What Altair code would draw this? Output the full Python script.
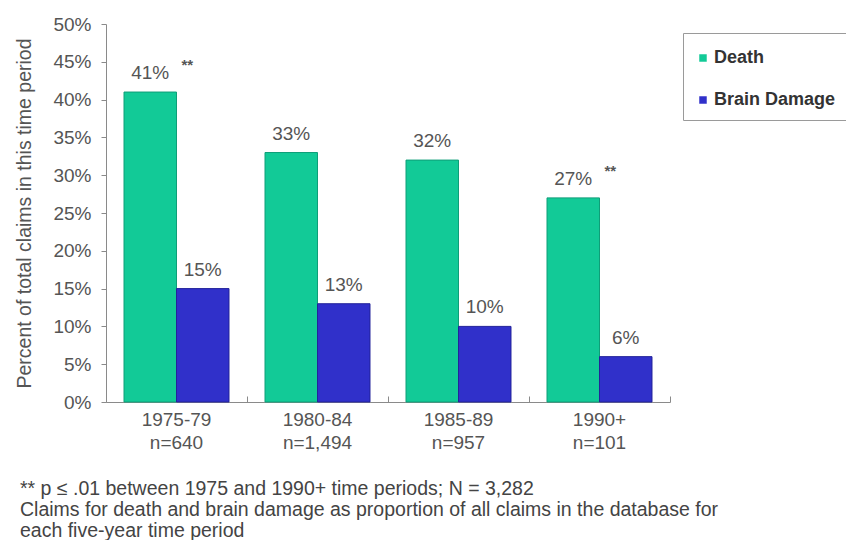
import altair as alt
import pandas as pd

periods = ["1975-79", "1980-84", "1985-89", "1990+"]
n_claims = ["n=640", "n=1,494", "n=957", "n=101"]
death = [41, 33, 32, 27]
brain = [15, 13, 10, 6]
series = ["Death", "Brain Damage"]
colors = ["#12CA97", "#3030CA"]
strokes = ["#0E9E78", "#22229A"]
star_periods = ["1975-79", "1990+"]
footnote = [
    "** p \u2264 .01 between 1975 and 1990+ time periods; N = 3,282",
    "Claims for death and brain damage as proportion of all claims in the database for",
    "each five-year time period",
]

rows = []
for p, n, d, b in zip(periods, n_claims, death, brain):
    lab = p + "|" + n
    rows.append({"period": lab, "series": "Death", "value": d, "txt": f"{d}%"})
    rows.append({"period": lab, "series": "Brain Damage", "value": b, "txt": f"{b}%"})
df = pd.DataFrame(rows)
star_labels = [p + "|" + n for p, n in zip(periods, n_claims) if p in star_periods]
stars = df[(df.series == "Death") & (df.period.isin(star_labels))].copy()
stars["txt"] = "**"

FONT = "Liberation Sans"
W, H = 564, 378

x_scale = alt.Scale(paddingInner=0, paddingOuter=0)
xo_scale = alt.Scale(domain=series, paddingInner=0, paddingOuter=0.343)
y_scale = alt.Scale(domain=[0, 50])

x_enc = alt.X(
    "period:N",
    sort=None,
    scale=x_scale,
    axis=alt.Axis(
        title=None,
        labelAngle=0,
        labelExpr="split(datum.label, '|')",
        labelFont=FONT,
        labelFontSize=19,
        labelColor="#555555",
        labelLineHeight=23,
        labelPadding=8,
        ticks=False,
        domainColor="#8a8a8a",
        domainWidth=1,
    ),
)
xo_enc = alt.XOffset("series:N", sort=series, scale=xo_scale)
y_axis = alt.Axis(
    title="Percent of total claims in this time period",
    titleFont=FONT,
    titleFontSize=19.5,
    titleFontWeight="normal",
    titleColor="#555555",
    titlePadding=18,
    values=list(range(0, 55, 5)),
    labelExpr="datum.value + '%'",
    labelFont=FONT,
    labelFontSize=19,
    labelColor="#555555",
    labelPadding=10,
    tickSize=5,
    tickColor="#8a8a8a",
    domainColor="#8a8a8a",
    grid=False,
)
y_enc = alt.Y("value:Q", scale=y_scale, axis=y_axis)

bars = alt.Chart(df).mark_bar(strokeWidth=1).encode(
    x=x_enc,
    xOffset=xo_enc,
    y=y_enc,
    color=alt.Color(
        "series:N",
        sort=series,
        scale=alt.Scale(domain=series, range=colors),
        legend=alt.Legend(
            title=" ",
            titleFontSize=2,
            titlePadding=3,
            orient="none",
            legendX=577,
            legendY=9,
            direction="vertical",
            symbolType="square",
            symbolSize=56,
            symbolStrokeWidth=0,
            labelFont=FONT,
            labelFontSize=18,
            labelFontWeight="bold",
            labelColor="#333333",
            labelOffset=2,
            rowPadding=24,
            padding=11,
            strokeColor="#9a9a9a",
            fillColor="white",
        ),
    ),
    stroke=alt.Stroke("series:N", sort=series, scale=alt.Scale(domain=series, range=strokes), legend=None),
)

x_plain = alt.X("period:N", sort=None, axis=None)

labels = alt.Chart(df).mark_text(
    font=FONT, fontSize=19, color="#555555", dy=-19, baseline="middle"
).encode(x=x_plain, xOffset=alt.XOffset("series:N", sort=series), y=y_enc, text="txt:N")

star = alt.Chart(stars).mark_text(
    font=FONT, fontSize=15, fontWeight="bold", color="#555555", dx=37, dy=-27, baseline="middle"
).encode(x=x_plain, xOffset=alt.XOffset("series:N", sort=series), y=y_enc, text="txt:N")

ticks = alt.Chart(df).mark_bar(opacity=0).encode(
    x=alt.X(
        "period:N",
        sort=None,
        axis=alt.Axis(
            orient="top",
            offset=-H,
            labels=False,
            domain=False,
            title=None,
            ticks=True,
            tickBand="extent",
            tickSize=6,
            tickColor="#8a8a8a",
        ),
    ),
    y=y_enc,
)

chart = (
    alt.layer(bars, labels, star, ticks)
    .resolve_axis(x="independent")
    .properties(
        width=W,
        height=H,
        padding={"left": 98, "top": 16, "right": 176, "bottom": 138},
        autosize=alt.AutoSizeParams(type="none"),
        title=alt.TitleParams(
            text=footnote,
            orient="bottom",
            anchor="start",
            frame="group",
            dx=-86,
            offset=28,
            font=FONT,
            fontSize=19.5,
            fontWeight="normal",
            color="#444444",
            lineHeight=21,
            baseline="top",
        ),
    )
    .configure(background="white")
    .configure_view(strokeWidth=0, stroke="transparent")
)

chart.save("out.html", embed_options={"renderer": "svg", "actions": False})
